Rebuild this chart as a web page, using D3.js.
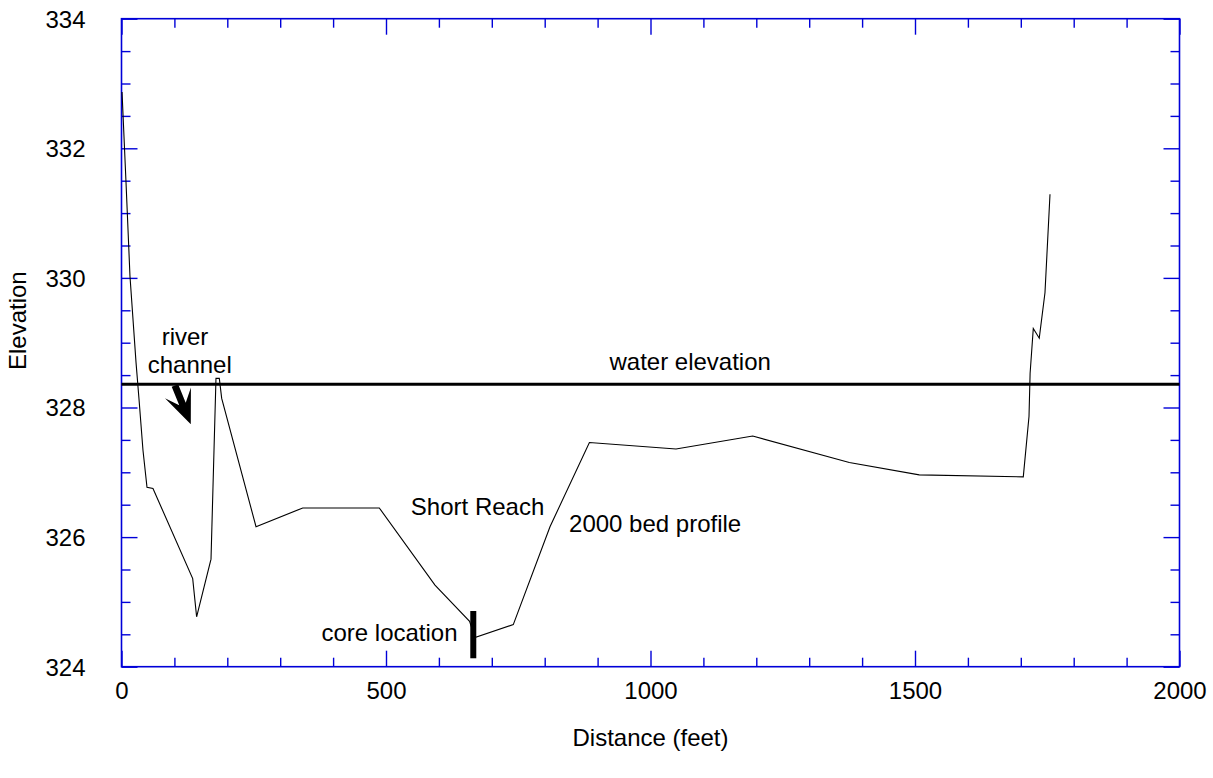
<!DOCTYPE html>
<html>
<head>
<meta charset="utf-8">
<script src="https://cdn.jsdelivr.net/npm/d3@7"></script>
<style>
  html, body { margin: 0; padding: 0; background: #fff; }
  svg { display: block; font-family: "Liberation Sans", Arial, sans-serif; }
</style>
</head>
<body>
<div id="chart"></div>
<script>
// ---- data ----
const distance = [1, 8.5, 16, 27.4, 33, 40.6, 48.2, 59.5, 134.6, 142, 169.2, 178.6, 184.9, 189.4, 254.3, 342.6, 487.3, 592.6, 658, 668, 740.6, 810, 884.5, 1048.2, 1193.2, 1375.8, 1508, 1704.7, 1715.5, 1717.6, 1723.6, 1734.9, 1745.7, 1755.2];
const elevation = [332.87, 331.48, 330.03, 328.7, 328.14, 327.34, 326.77, 326.75, 325.36, 324.77, 325.66, 328.45, 328.45, 328.14, 326.16, 326.45, 326.45, 325.26, 324.7, 324.45, 324.65, 326.16, 327.46, 327.36, 327.56, 327.15, 326.96, 326.93, 327.86, 328.53, 329.22, 329.07, 329.77, 331.29];
const waterDistance = [0, 2000];
const waterElevation = [328.36, 328.36];
const coreDistance = [665, 665];
const coreElevation = [324.13, 324.86];
const xTicks = [0, 500, 1000, 1500, 2000];
const yTicks = [324, 326, 328, 330, 332, 334];
const xMinorStep = 100;
const yMinorStep = 0.5;
const annotations = [
  { text: "river", x: 120, y: 328.96, anchor: "middle" },
  { text: "channel", x: 129, y: 328.53, anchor: "middle" },
  { text: "water elevation", x: 1075, y: 328.58, anchor: "middle" },
  { text: "Short Reach", x: 547, y: 326.34, anchor: "start" },
  { text: "2000 bed profile", x: 846, y: 326.08, anchor: "start" },
  { text: "core location", x: 378, y: 324.4, anchor: "start" }
];
const arrowTail = [101, 328.34];
const arrowHead = [131, 327.74];

// ---- layout ----
const W = 1213, H = 778;
const m = { left: 121.5, top: 18.7, right: 1213 - 1179.5, bottom: 778 - 666.7 };
const iw = W - m.left - m.right, ih = H - m.top - m.bottom;
const blue = "#0000d8";
const fs = 24;

const svg = d3.select("#chart").append("svg").attr("width", W).attr("height", H);
const g = svg.append("g").attr("transform", `translate(${m.left},${m.top})`);

const x = d3.scaleLinear().domain([0, 2000]).range([0, iw]);
const y = d3.scaleLinear().domain([324, 334]).range([ih, 0]);

const xMinor = d3.range(0, 2000 + 1e-9, xMinorStep).filter(v => !xTicks.includes(v));
const yMinor = d3.range(324, 334 + 1e-9, yMinorStep).filter(v => !yTicks.some(t => Math.abs(t - v) < 1e-6));

function styleAxis(sel) {
  sel.select(".domain").remove();
  sel.selectAll(".tick line").attr("stroke", blue).attr("stroke-width", 1.4);
}

// bottom axis with labels (ticks inward)
g.append("g").attr("transform", `translate(0,${ih})`)
  .call(d3.axisBottom(x).tickValues(xTicks).tickSize(-16).tickPadding(0).tickFormat(d3.format("d")))
  .call(styleAxis)
  .call(s => s.selectAll("text").attr("y", 32).attr("dy", 0).attr("font-size", fs).attr("fill", "#000").attr("font-family", "Liberation Sans, Arial, sans-serif"));
g.append("g").attr("transform", `translate(0,${ih})`)
  .call(d3.axisBottom(x).tickValues(xMinor).tickSize(-9).tickFormat(""))
  .call(styleAxis);
// top axis
g.append("g").call(d3.axisTop(x).tickValues(xTicks).tickSize(-16).tickFormat("")).call(styleAxis);
g.append("g").call(d3.axisTop(x).tickValues(xMinor).tickSize(-9).tickFormat("")).call(styleAxis);
// left axis with labels
g.append("g")
  .call(d3.axisLeft(y).tickValues(yTicks).tickSize(-16).tickPadding(0).tickFormat(d3.format("d")))
  .call(styleAxis)
  .call(s => s.selectAll("text").attr("x", -36).attr("dy", "0.35em").attr("font-size", fs).attr("fill", "#000").attr("font-family", "Liberation Sans, Arial, sans-serif"));
g.append("g").call(d3.axisLeft(y).tickValues(yMinor).tickSize(-9).tickFormat("")).call(styleAxis);
// right axis
g.append("g").attr("transform", `translate(${iw},0)`)
  .call(d3.axisRight(y).tickValues(yTicks).tickSize(-16).tickFormat("")).call(styleAxis);
g.append("g").attr("transform", `translate(${iw},0)`)
  .call(d3.axisRight(y).tickValues(yMinor).tickSize(-9).tickFormat("")).call(styleAxis);

// frame
g.append("rect").attr("x", 0).attr("y", 0).attr("width", iw).attr("height", ih)
  .attr("fill", "none").attr("stroke", blue).attr("stroke-width", 1.6);

// water line
const wl = waterDistance.map((d, i) => [d, waterElevation[i]]);
g.append("path").datum(wl)
  .attr("d", d3.line().x(d => x(d[0])).y(d => y(d[1])))
  .attr("stroke", "#000").attr("stroke-width", 3).attr("fill", "none");

// bed profile
const bed = distance.map((d, i) => [d, elevation[i]]);
g.append("path").datum(bed)
  .attr("d", d3.line().x(d => x(d[0])).y(d => y(d[1])))
  .attr("stroke", "#000").attr("stroke-width", 1.1).attr("fill", "none");

// core location bar
const core = coreDistance.map((d, i) => [d, coreElevation[i]]);
g.append("path").datum(core)
  .attr("d", d3.line().x(d => x(d[0])).y(d => y(d[1])))
  .attr("stroke", "#000").attr("stroke-width", 6).attr("fill", "none");

// arrow (barbed head) in data coords
const tx = x(arrowTail[0]), ty = y(arrowTail[1]);
const hx = x(arrowHead[0]), hy = y(arrowHead[1]);
const ang = Math.atan2(hy - ty, hx - tx);
const len = Math.hypot(hx - tx, hy - ty);
const arrow = g.append("g").attr("transform", `translate(${tx},${ty}) rotate(${ang * 180 / Math.PI})`);
arrow.append("path")
  .attr("d", `M0,-3.5 L${len - 22},-3.5 L${len - 34},-14 L${len},0 L${len - 34},14 L${len - 22},3.5 L0,3.5 Z`)
  .attr("fill", "#000");

// annotations
g.selectAll("text.ann").data(annotations).enter().append("text")
  .attr("class", "ann")
  .attr("x", d => x(d.x)).attr("y", d => y(d.y))
  .attr("text-anchor", d => d.anchor)
  .attr("font-size", fs).attr("fill", "#000")
  .text(d => d.text);

// axis titles
svg.append("text").attr("x", m.left + iw / 2).attr("y", 746).attr("text-anchor", "middle")
  .attr("font-size", fs).text("Distance (feet)");
svg.append("text").attr("transform", `translate(26,${m.top + ih / 2 - 22}) rotate(-90)`)
  .attr("text-anchor", "middle").attr("font-size", fs).text("Elevation");
</script>
</body>
</html>
